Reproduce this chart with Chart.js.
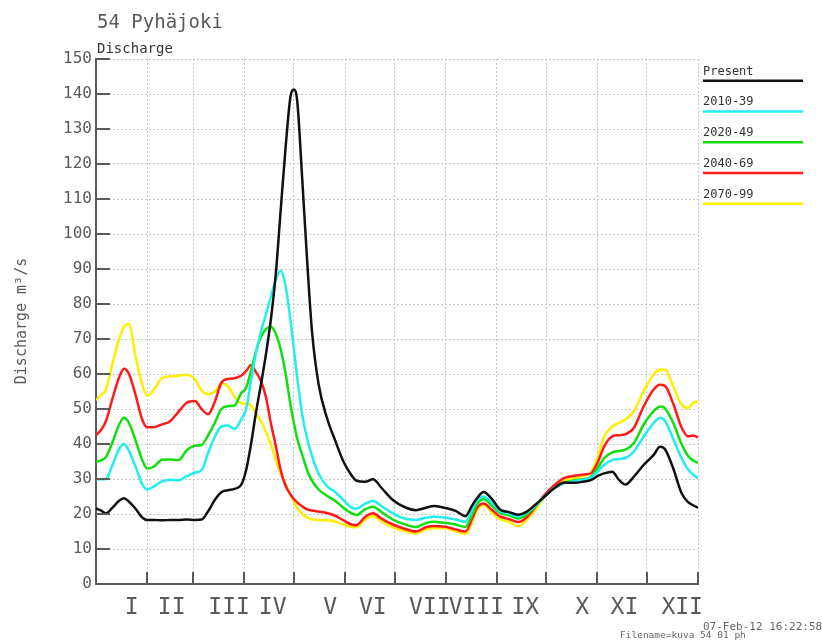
<!DOCTYPE html>
<html>
<head>
<meta charset="utf-8">
<title>54 Pyhäjoki – Discharge</title>
<script src="https://cdn.jsdelivr.net/npm/chart.js@4.4.1/dist/chart.umd.min.js"></script>
<style>
  html, body { margin: 0; padding: 0; background: #fff; }
  canvas { display: block; }
</style>
</head>
<body>
<canvas id="c" width="822" height="641"></canvas>
<script>
// Day of year (0..365) at which each discharge value is given
const days = [0,3,6,10,14,17,20,24,28,31,35,40,45,50,55,60,64,68,72,76,80,84,88,91,94,97,100,103,106,109,112,115,118,120,122,125,128,131,135,140,145,150,155,158,163,168,173,180,187,194,200,205,211,218,224,228,231,235,240,245,250,256,261,266,272,278,284,290,296,300,304,308,313,317,321,326,332,338,342,345,350,355,359,362,365];

// Mean daily discharge, m3/s
const present = [21.6,21.0,20.2,21.8,23.8,24.5,23.5,21.5,19.0,18.3,
  18.3,18.2,18.3,18.3,18.4,18.3,18.4,20.8,24.0,26.2,
  26.8,27.2,28.3,32.5,40.0,49.0,57.0,65.5,75.5,88.5,
  107.0,125.0,139.5,141.3,138.0,116.0,92.5,72.0,57.0,47.5,
  41.0,35.0,31.0,29.5,29.2,29.9,27.5,24.0,22.0,21.1,
  21.8,22.3,21.8,20.9,19.4,22.4,24.5,26.3,24.3,21.3,
  20.6,19.8,20.6,22.5,25.0,27.4,29.0,28.9,29.3,29.7,
  30.8,31.6,32.1,29.8,28.4,30.6,34.0,36.8,39.2,38.5,
  33.0,26.0,23.4,22.5,21.8];

const p2010 = [29.9,29.9,30.0,34.0,38.5,40.0,38.0,33.5,28.5,27.0,
  27.8,29.3,29.8,29.6,30.8,31.8,32.5,37.5,42.0,45.0,
  45.3,44.3,47.0,50.0,58.0,66.0,72.0,77.0,82.0,87.0,
  89.5,85.0,75.0,67.0,59.0,48.5,41.5,36.5,31.5,28.0,
  26.3,24.0,21.8,21.5,22.9,23.7,22.3,20.2,18.7,18.3,
  18.9,19.2,19.0,18.4,17.8,21.0,23.8,25.0,23.2,20.8,
  20.2,19.3,20.4,22.2,25.0,27.5,28.8,29.4,29.8,30.4,
  32.0,34.0,35.4,35.7,36.0,37.8,42.1,45.9,47.5,46.6,
  41.5,36.0,32.7,31.3,30.2];

const p2020 = [34.9,35.3,36.3,40.5,45.5,47.5,46.0,41.0,35.5,33.0,
  33.5,35.5,35.6,35.4,38.2,39.5,39.7,42.5,46.0,50.0,
  50.8,51.0,54.5,56.0,61.0,66.5,70.5,72.8,73.5,71.5,
  67.0,60.0,51.0,46.0,41.5,37.0,32.5,29.5,27.0,25.2,
  23.8,21.8,20.2,19.7,21.3,22.1,20.6,18.4,17.1,16.3,
  17.4,17.8,17.5,17.0,16.3,19.8,22.8,24.2,22.4,20.3,
  19.7,18.7,19.8,22.0,25.0,27.5,28.9,29.6,30.0,30.6,
  33.0,35.9,37.6,38.0,38.4,40.2,45.5,49.3,50.7,50.2,
  46.0,40.0,36.6,35.3,34.6];

const p2040 = [42.5,44.0,46.5,53.0,59.0,61.5,60.0,54.0,47.0,44.8,
  44.8,45.6,46.5,49.2,51.8,52.3,50.0,48.5,52.0,57.5,
  58.6,58.8,59.5,60.8,62.6,60.5,58.0,53.5,46.0,39.5,
  32.5,28.0,25.5,24.3,23.3,22.2,21.3,21.0,20.7,20.3,
  19.5,18.2,17.0,16.8,19.1,20.2,18.7,17.0,15.8,15.0,
  16.2,16.6,16.4,15.6,15.0,18.6,21.8,23.0,21.2,19.3,
  18.6,17.7,19.0,21.8,25.5,28.3,30.3,30.9,31.3,31.6,
  34.5,39.2,42.2,42.5,42.8,44.5,50.7,55.5,56.9,56.6,
  51.5,44.8,42.2,42.4,41.9];

const p2070 = [52.5,54.0,55.5,63.0,70.0,73.5,74.3,65.0,57.0,53.8,
  55.5,58.8,59.3,59.5,59.8,58.5,55.3,54.2,55.0,57.2,
  56.5,53.5,51.6,51.6,51.0,48.8,46.5,43.5,40.0,35.5,
  31.5,28.5,25.5,23.5,21.8,20.0,19.0,18.4,18.3,18.2,
  17.8,17.0,16.3,16.2,18.3,19.4,17.9,16.2,15.1,14.5,
  15.6,15.9,15.9,15.1,14.3,17.6,21.0,22.6,20.4,18.5,
  17.8,16.5,18.2,21.0,24.9,27.9,29.5,30.2,31.0,31.8,
  36.0,42.0,45.0,46.0,47.0,49.3,55.0,59.8,61.2,61.3,
  56.5,51.3,50.3,51.7,52.2];

const seriesNames = ['Present', '2010-39', '2020-49', '2040-69', '2070-99'];
const seriesColors = ['#111111', '#22eeee', '#11dd11', '#ff1a1a', '#ffee00'];

// Month boundaries (day of year) and the Roman month labels under the axis
const monthStarts = [0, 31, 59, 90, 120, 151, 181, 212, 243, 273, 304, 334, 365];
const monthLabels = ['I','II','III','IV','V','VI','VII','VIII','IX','X','XI','XII'];
const monthLabelDays = [21.7, 45.9, 80.7, 107.1, 142.0, 167.8, 202.4, 230.6, 260.3, 294.7, 320.4, 355.4];

const MONO = "'DejaVu Sans Mono', monospace";
const AXIS = '#5a5a5a';
const GRID = '#c8c8c8';
const TEXT = '#5a5a5a';

const toPoints = vals => vals.map((v, i) => ({ x: days[i], y: v }));
const allSeries = [present, p2010, p2020, p2040, p2070];

const datasets = allSeries.map((vals, i) => ({
  label: seriesNames[i],
  data: toPoints(vals),
  borderColor: seriesColors[i],
  backgroundColor: seriesColors[i],
  borderWidth: 2.5,
  pointRadius: 0,
  fill: false,
  cubicInterpolationMode: 'monotone'
}));

// Titles, legend, inner tick marks and footer
const decor = {
  id: 'decor',
  afterDraw(chart) {
    const { ctx, chartArea: a, scales: { x, y } } = chart;
    ctx.save();

    // tick marks pointing into the plot
    ctx.strokeStyle = AXIS;
    ctx.lineWidth = 2;
    ctx.beginPath();
    y.ticks.forEach(t => {
      const py = Math.round(y.getPixelForValue(t.value));
      ctx.moveTo(a.left, py);
      ctx.lineTo(a.left + 14, py);
    });
    monthStarts.forEach(d => {
      const px = Math.round(x.getPixelForValue(d));
      ctx.moveTo(px, a.bottom);
      ctx.lineTo(px, a.bottom - 12);
    });
    ctx.stroke();

    // station title and quantity
    ctx.fillStyle = TEXT;
    ctx.textBaseline = 'alphabetic';
    ctx.textAlign = 'left';
    ctx.font = '19px ' + MONO;
    ctx.fillText('54 Pyhäjoki', 97, 28);
    ctx.fillStyle = '#333333';
    ctx.font = '14px ' + MONO;
    ctx.fillText('Discharge', 97, 53);

    // vertical axis title
    ctx.save();
    ctx.fillStyle = TEXT;
    ctx.translate(26, 321);
    ctx.rotate(-Math.PI / 2);
    ctx.textAlign = 'center';
    ctx.font = '15px ' + MONO;
    ctx.fillText('Discharge m³/s', 0, 0);
    ctx.restore();

    // legend on the right
    chart.data.datasets.forEach((ds, i) => {
      const ly = 80.7 + i * 30.75;
      ctx.strokeStyle = ds.borderColor;
      ctx.lineWidth = 2.5;
      ctx.beginPath();
      ctx.moveTo(703, ly);
      ctx.lineTo(803, ly);
      ctx.stroke();
      ctx.fillStyle = '#333333';
      ctx.font = '12px ' + MONO;
      ctx.textAlign = 'left';
      ctx.fillText(ds.label, 703, ly - 6);
    });

    // footer stamp
    ctx.fillStyle = '#666666';
    ctx.font = '11px ' + MONO;
    ctx.fillText('07-Feb-12 16:22:58', 703, 629.5);
    ctx.font = '9.5px ' + MONO;
    ctx.fillText('Filename=kuva 54 01 ph', 620, 637.5);

    ctx.restore();
  }
};

new Chart(document.getElementById('c'), {
  type: 'line',
  data: { datasets },
  options: {
    responsive: false,
    animation: false,
    devicePixelRatio: 1,
    layout: { padding: { top: 59, right: 124, bottom: 0, left: 0 } },
    plugins: {
      legend: { display: false },
      title: { display: false },
      tooltip: { enabled: false }
    },
    scales: {
      x: {
        type: 'linear',
        min: 0,
        max: 365,
        afterBuildTicks: s => {
          s.ticks = monthStarts.map(v => ({ value: v }))
            .concat(monthLabelDays.map(v => ({ value: v })));
        },
        afterFit: s => { s.height = 57; },
        grid: {
          drawTicks: false,
          color: c => (c.tick && monthStarts.includes(c.tick.value)) ? GRID : 'rgba(0,0,0,0)',
          lineWidth: 1
        },
        border: { display: true, color: AXIS, width: 2, dash: [2, 2] },
        ticks: {
          autoSkip: false,
          maxRotation: 0,
          padding: 10,
          color: TEXT,
          font: { family: MONO, size: 23 },
          callback: v => {
            const k = monthLabelDays.indexOf(v);
            return k >= 0 ? monthLabels[k] : '';
          }
        }
      },
      y: {
        min: 0,
        max: 150,
        afterFit: s => { s.width = 96; },
        grid: { drawTicks: false, color: GRID, lineWidth: 1 },
        border: { display: true, color: AXIS, width: 2, dash: [2, 2] },
        ticks: {
          stepSize: 10,
          padding: 4,
          color: TEXT,
          font: { family: MONO, size: 16 }
        }
      }
    }
  },
  plugins: [decor]
});
</script>
</body>
</html>
